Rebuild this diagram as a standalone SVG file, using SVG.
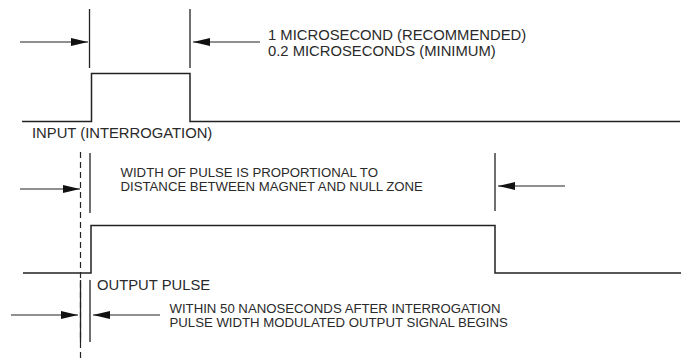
<svg xmlns="http://www.w3.org/2000/svg" width="697" height="360" viewBox="0 0 697 360">
  <style>
    .ln { stroke:#222; stroke-width:1.3; fill:none; }
    .pulse { stroke:#222; stroke-width:1.5; fill:none; }
    .dash { stroke:#222; stroke-width:1.2; fill:none; stroke-dasharray:6 4; }
    .arr { stroke:#222; stroke-width:1.2; fill:none; marker-end:url(#ah); }
    .t { font-family:"Liberation Sans", Arial, sans-serif; fill:#2a2a2a; }
    .big { font-size:14.8px; }
    .sm { font-size:13.2px; }
  </style>
  <defs>
    <marker id="ah" markerUnits="userSpaceOnUse" markerWidth="18" markerHeight="10" refX="17" refY="4" orient="auto">
      <path d="M0,0 L17,4 L0,8 z" fill="#111"/>
    </marker>
  </defs>
  <rect width="697" height="360" fill="#fff"/>

  <g id="input-pulse">
    <path class="pulse" d="M22,121.5 H91.5 V73.5 H190 V121.5 H680"/>
    <text class="t big" x="32" y="138">INPUT (INTERROGATION)</text>
  </g>

  <g id="output-pulse">
    <path class="pulse" d="M23,273 H91 V225.5 H495 V273 H681"/>
    <text class="t big" x="97" y="290">OUTPUT PULSE</text>
  </g>

  <g id="input-width-label">
    <text class="t big" x="268" y="40">1 MICROSECOND (RECOMMENDED)</text>
    <text class="t big" x="268" y="55.5">0.2 MICROSECONDS (MINIMUM)</text>
  </g>

  <g id="output-width-label">
    <text class="t sm" x="120.5" y="176.5">WIDTH OF PULSE IS PROPORTIONAL TO</text>
    <text class="t sm" x="120.5" y="190.5">DISTANCE BETWEEN MAGNET AND NULL ZONE</text>
  </g>

  <g id="delay-label">
    <text class="t sm" x="169.5" y="312.5">WITHIN 50 NANOSECONDS AFTER INTERROGATION</text>
    <text class="t sm" x="169.5" y="326.5">PULSE WIDTH MODULATED OUTPUT SIGNAL BEGINS</text>
  </g>

  <g id="connectors">
    <!-- extension lines -->
    <line class="ln" x1="89.5" y1="9" x2="89.5" y2="68"/>
    <line class="ln" x1="190" y1="9" x2="190" y2="68"/>
    <line class="ln" x1="90" y1="153" x2="90" y2="213"/>
    <line class="ln" x1="495" y1="153" x2="495" y2="211"/>
    <line class="dash" x1="80.5" y1="152" x2="80.5" y2="360"/>
    <line class="ln" x1="80.5" y1="280" x2="80.5" y2="342"/>
    <line class="ln" x1="90" y1="280" x2="90" y2="342"/>
    <!-- dimension arrows -->
    <line class="arr" x1="20" y1="42" x2="88" y2="42"/>
    <line class="arr" x1="260" y1="42" x2="193" y2="42"/>
    <line class="arr" x1="20" y1="189" x2="80" y2="189"/>
    <line class="arr" x1="565" y1="186" x2="498" y2="186"/>
    <line class="arr" x1="11" y1="315" x2="78" y2="315"/>
    <line class="arr" x1="160" y1="315" x2="93" y2="315"/>
  </g>
</svg>
